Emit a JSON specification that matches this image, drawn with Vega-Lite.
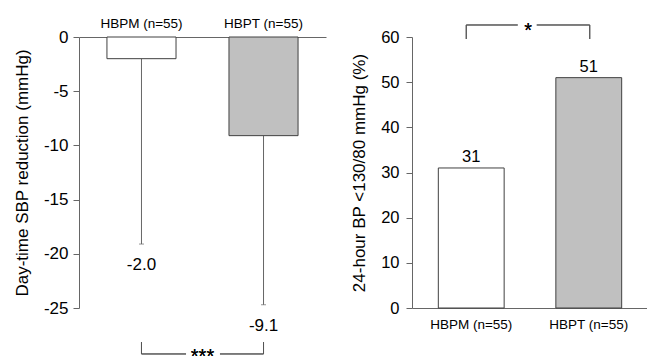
{
  "$schema": "https://vega.github.io/schema/vega-lite/v6.json",
  "padding": {"left": 13, "top": 16, "right": 0, "bottom": 0},
  "background": "white",
  "spacing": 86,
  "bounds": "flush",
  "config": {
    "view": {"stroke": null},
    "font": "Liberation Sans",
    "axis": {
      "labelFont": "Liberation Sans",
      "titleFont": "Liberation Sans",
      "labelColor": "#000000",
      "titleColor": "#000000",
      "titleFontWeight": "normal",
      "domainColor": "#666666",
      "tickColor": "#666666",
      "grid": false
    }
  },
  "datasets": {
    "sbp": [
      {"group": "HBPM (n=55)", "mean": -2.0, "lower": -19.1, "label": "-2.0"},
      {"group": "HBPT (n=55)", "mean": -9.1, "lower": -24.7, "label": "-9.1"}
    ],
    "ctrl": [
      {"group": "HBPM (n=55)", "pct": 31},
      {"group": "HBPT (n=55)", "pct": 51}
    ]
  },
  "hconcat": [
    {
      "width": 247,
      "height": 271,
      "data": {"name": "sbp"},
      "encoding": {
        "x": {
          "field": "group", "type": "nominal", "sort": null,
          "scale": {"paddingInner": 0.434, "paddingOuter": 0.229},
          "axis": {"orient": "top", "title": null, "labelAngle": 0, "ticks": false, "tickSize": 0, "labelPadding": 7, "labelFontSize": 13.5}
        }
      },
      "layer": [
        {
          "mark": {"type": "rule", "color": "#666666", "strokeWidth": 1},
          "encoding": {
            "y": {"field": "mean", "type": "quantitative"},
            "y2": {"field": "lower"}
          }
        },
        {
          "mark": {"type": "tick", "color": "#666666", "size": 5, "thickness": 1, "orient": "horizontal"},
          "encoding": {
            "y": {"field": "lower", "type": "quantitative"}
          }
        },
        {
          "mark": {"type": "bar", "stroke": "#404040", "strokeWidth": 1},
          "encoding": {
            "y": {
              "field": "mean", "type": "quantitative",
              "scale": {"domain": [-25, 0], "nice": false},
              "axis": {"title": "Day-time SBP reduction (mmHg)", "titleFontSize": 17, "titlePadding": 12, "labelFontSize": 17, "tickSize": 6, "labelPadding": 5, "values": [0, -5, -10, -15, -20, -25], "labelExpr": "replace(datum.label, '\u2212', '-')"}
            },
            "color": {"field": "group", "type": "nominal", "scale": {"range": ["#ffffff", "#c0c0c0"]}, "legend": null}
          }
        },
        {
          "mark": {"type": "text", "fontSize": 17, "baseline": "middle", "dy": 21, "color": "#000000"},
          "encoding": {
            "y": {"field": "lower", "type": "quantitative"},
            "text": {"field": "label"}
          }
        },
        {
          "mark": {"type": "rule", "color": "#555555", "strokeWidth": 1},
          "encoding": {
            "x": {"datum": "HBPM (n=55)"},
            "y": {"datum": -28.14},
            "y2": {"datum": -29.24}
          }
        },
        {
          "mark": {"type": "rule", "color": "#555555", "strokeWidth": 1},
          "encoding": {
            "x": {"datum": "HBPT (n=55)"},
            "y": {"datum": -28.14},
            "y2": {"datum": -29.24}
          }
        },
        {
          "mark": {"type": "rule", "color": "#555555", "strokeWidth": 1, "x2Offset": -77.5},
          "encoding": {
            "x": {"datum": "HBPM (n=55)"},
            "x2": {"datum": "HBPT (n=55)"},
            "y": {"datum": -29.24}
          }
        },
        {
          "mark": {"type": "rule", "color": "#555555", "strokeWidth": 1, "xOffset": 78.5},
          "encoding": {
            "x": {"datum": "HBPM (n=55)"},
            "x2": {"datum": "HBPT (n=55)"},
            "y": {"datum": -29.24}
          }
        },
        {
          "mark": {"type": "text", "text": "***", "fontSize": 20, "baseline": "alphabetic", "xOffset": 61, "color": "#000000"},
          "encoding": {
            "x": {"datum": "HBPM (n=55)"},
            "y": {"datum": -30.07}
          }
        }
      ]
    },
    {
      "width": 236,
      "height": 271,
      "data": {"name": "ctrl"},
      "encoding": {
        "x": {
          "field": "group", "type": "nominal", "sort": null,
          "scale": {"paddingInner": 0.44, "paddingOuter": 0.224},
          "axis": {"orient": "bottom", "title": null, "labelAngle": 0, "ticks": false, "tickSize": 0, "labelPadding": 9, "labelFontSize": 13.5}
        }
      },
      "layer": [
        {
          "mark": {"type": "bar", "stroke": "#404040", "strokeWidth": 1},
          "encoding": {
            "y": {
              "field": "pct", "type": "quantitative",
              "scale": {"domain": [0, 60], "nice": false},
              "axis": {
                "title": "24-hour BP <130/80 mmHg (%)", "titleFontSize": 17, "titlePadding": 12,
                "labelFontSize": 16.5, "labelPadding": 7,
                "values": [0, 5, 10, 15, 20, 25, 30, 35, 40, 45, 50, 55, 60],
                "labelExpr": "datum.value % 10 === 0 ? datum.label : ''",
                "tickSize": {"condition": {"test": "datum.value % 10 !== 0", "value": 4}, "value": 6}
              }
            },
            "color": {"field": "group", "type": "nominal", "scale": {"range": ["#ffffff", "#c0c0c0"]}, "legend": null}
          }
        },
        {
          "mark": {"type": "text", "fontSize": 16.5, "baseline": "alphabetic", "dy": -6, "color": "#000000"},
          "encoding": {
            "y": {"field": "pct", "type": "quantitative"},
            "text": {"field": "pct"}
          }
        },
        {
          "mark": {"type": "rule", "color": "#555555", "strokeWidth": 1, "xOffset": -5},
          "encoding": {
            "x": {"datum": "HBPM (n=55)"},
            "y": {"datum": 59.56},
            "y2": {"datum": 62.66}
          }
        },
        {
          "mark": {"type": "rule", "color": "#555555", "strokeWidth": 1, "xOffset": 1},
          "encoding": {
            "x": {"datum": "HBPT (n=55)"},
            "y": {"datum": 59.56},
            "y2": {"datum": 62.66}
          }
        },
        {
          "mark": {"type": "rule", "color": "#555555", "strokeWidth": 1, "xOffset": -5, "x2Offset": -71},
          "encoding": {
            "x": {"datum": "HBPM (n=55)"},
            "x2": {"datum": "HBPT (n=55)"},
            "y": {"datum": 62.66}
          }
        },
        {
          "mark": {"type": "rule", "color": "#555555", "strokeWidth": 1, "xOffset": 65.5, "x2Offset": 1},
          "encoding": {
            "x": {"datum": "HBPM (n=55)"},
            "x2": {"datum": "HBPT (n=55)"},
            "y": {"datum": 62.66}
          }
        },
        {
          "mark": {"type": "text", "text": "*", "fontSize": 20, "baseline": "alphabetic", "xOffset": 57, "color": "#000000"},
          "encoding": {
            "x": {"datum": "HBPM (n=55)"},
            "y": {"datum": 60}
          }
        }
      ]
    }
  ]
}
